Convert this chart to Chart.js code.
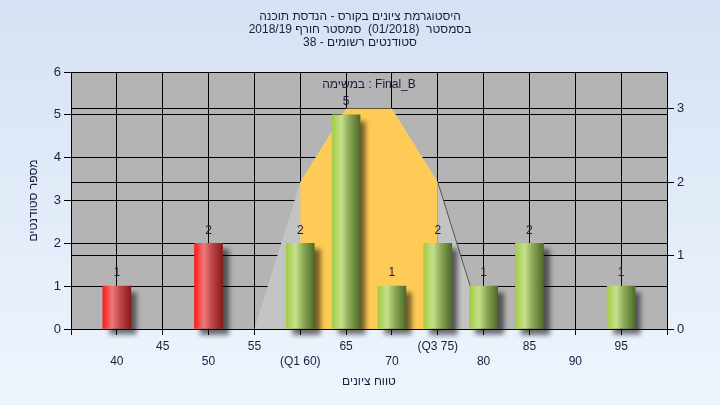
<!DOCTYPE html>
<html>
<head>
<meta charset="utf-8">
<script src="https://cdn.jsdelivr.net/npm/chart.js@4.4.0/dist/chart.umd.min.js"></script>
<style>
  html, body { margin: 0; padding: 0; }
</style>
</head>
<body>
<canvas id="histChart" width="720" height="405"></canvas>
<script>
// histogram data
const grades = [40, 45, 50, 55, 60, 65, 70, 75, 80, 85, 90, 95];
const counts = [1, 0, 2, 0, 2, 5, 1, 2, 1, 2, 0, 1];
const tickLabels = ['40', '45', '50', '55', '(Q1 60)', '65', '70', '(Q3 75)', '80', '85', '90', '95'];

// distribution outline (right axis)
const curveGrades = [55, 60, 65, 70, 75, 80];
const curveValues = [0, 2, 3, 3, 2, 0];
const q1 = 60;
const q3 = 75;
const passGrade = 55;

const titleLines = [
    'היסטוגרמת ציונים בקורס - הנדסת תוכנה',
    'בסמסטר  (01/2018)  סמסטר חורף 2018/19',
    'סטודנטים רשומים - 38'
];
const taskLabel = 'במשימה : Final_B';
const xTitle = 'טווח ציונים';
const yTitle = 'מספר סטודנטים';

const textColor = '#1c1c40';
const fontFamily = '"Liberation Sans", Arial, sans-serif';

const greenStops = [[0, '#a2cc46'], [0.33, '#c6e08c'], [0.6, '#8eaa58'], [1, '#4e6a28']];
const redStops = [[0, '#ff1a1a'], [0.33, '#ee7a7a'], [0.6, '#c44a4a'], [1, '#881a1a']];

function barFill(c) {
    const chart = c.chart;
    const xs = chart.scales.x;
    if (!xs || !c.raw) return '#a2cc46';
    const px = xs.getPixelForValue(c.raw.x);
    if (!isFinite(px)) return '#a2cc46';
    const g = chart.ctx.createLinearGradient(px - 14, 0, px + 14, 0);
    const stops = c.raw.x < passGrade ? redStops : greenStops;
    stops.forEach(s => g.addColorStop(s[0], s[1]));
    return g;
}

const backdrop = {
    id: 'backdrop',
    beforeDraw(chart) {
        const { ctx, width, height, chartArea: a } = chart;
        ctx.save();
        const g = ctx.createLinearGradient(0, 0, 0, height);
        g.addColorStop(0, '#d5e2f3');
        g.addColorStop(1, '#eef5fd');
        ctx.fillStyle = g;
        ctx.fillRect(0, 0, width, height);
        ctx.fillStyle = '#b4b4b4';
        ctx.fillRect(a.left, a.top, a.right - a.left, a.bottom - a.top);
        ctx.restore();
    }
};

const barShadow = {
    id: 'barShadow',
    beforeDatasetDraw(chart, args) {
        if (args.meta.type !== 'bar') return;
        const ctx = chart.ctx;
        ctx.save();
        ctx.shadowColor = 'rgba(0, 0, 0, 0.55)';
        ctx.shadowBlur = 5;
        ctx.shadowOffsetX = 6;
        ctx.shadowOffsetY = 6;
    },
    afterDatasetDraw(chart, args) {
        if (args.meta.type !== 'bar') return;
        chart.ctx.restore();
    }
};

const valueLabels = {
    id: 'valueLabels',
    afterDatasetsDraw(chart) {
        const ctx = chart.ctx;
        const meta = chart.getDatasetMeta(0);
        ctx.save();
        ctx.font = '12px ' + fontFamily;
        ctx.fillStyle = textColor;
        ctx.textAlign = 'center';
        ctx.textBaseline = 'middle';
        meta.data.forEach((bar, i) => {
            if (!counts[i]) return;
            ctx.fillText(String(counts[i]), bar.x, bar.y - 13);
        });
        // task name inside the plot
        const a = chart.chartArea;
        ctx.fillText(taskLabel, (a.left + a.right) / 2, a.top + 13);
        ctx.restore();
    }
};

new Chart(document.getElementById('histChart'), {
    data: {
        datasets: [
            {
                type: 'bar',
                data: grades.map((g, i) => ({ x: g, y: counts[i] || null })),
                backgroundColor: barFill,
                borderWidth: 0,
                barThickness: 28,
                clip: 10,
                order: 0
            },
            {
                type: 'line',
                data: curveGrades.map((g, i) => ({ x: g, y: curveValues[i] })),
                yAxisID: 'y2',
                fill: 'origin',
                backgroundColor: '#c3c3c3',
                borderWidth: 1,
                borderColor: 'transparent',
                segment: {
                    borderColor: s => s.p0.parsed.x >= q3 ? '#555555' : 'transparent'
                },
                pointRadius: 0,
                tension: 0,
                order: 2
            },
            {
                type: 'line',
                data: curveGrades.map((g, i) => ({ x: g, y: curveValues[i] }))
                    .filter(p => p.x >= q1 && p.x <= q3),
                yAxisID: 'y2',
                fill: 'origin',
                backgroundColor: '#fecb56',
                borderWidth: 0,
                pointRadius: 0,
                tension: 0,
                order: 1
            }
        ]
    },
    options: {
        responsive: false,
        animation: false,
        layout: { padding: 0 },
        plugins: {
            legend: { display: false },
            tooltip: { enabled: false },
            title: {
                display: true,
                text: titleLines,
                color: textColor,
                font: { family: fontFamily, size: 12, weight: 'normal', lineHeight: 1.12 },
                padding: { top: 9.5, bottom: 22.2 }
            }
        },
        scales: {
            x: {
                type: 'linear',
                min: 35,
                max: 100,
                offset: false,
                afterBuildTicks: s => {
                    s.ticks = [35].concat(grades, [100]).map(v => ({ value: v }));
                },
                afterFit: s => { s.height = 76; },
                ticks: {
                    autoSkip: false,
                    maxRotation: 0,
                    padding: 4,
                    color: textColor,
                    font: { family: fontFamily, size: 12, lineHeight: 1.25 },
                    callback: v => {
                        const i = grades.indexOf(v);
                        if (i < 0) return '';
                        return i % 2 === 0 ? ['', tickLabels[i]] : tickLabels[i];
                    }
                },
                grid: { color: '#000000', lineWidth: 1, tickLength: 6, offset: false },
                border: { color: '#000000' },
                title: {
                    display: true,
                    text: xTitle,
                    color: textColor,
                    font: { family: fontFamily, size: 12 },
                    padding: { top: 0, bottom: 16 }
                }
            },
            y: {
                position: 'left',
                min: 0,
                max: 6,
                afterFit: s => { s.width = 71; },
                ticks: {
                    stepSize: 1,
                    padding: 3,
                    color: textColor,
                    font: { family: fontFamily, size: 13 }
                },
                grid: { color: '#000000', lineWidth: 1, tickLength: 7 },
                border: { color: '#000000' },
                title: {
                    display: true,
                    text: yTitle,
                    color: textColor,
                    font: { family: fontFamily, size: 12 },
                    padding: { top: 26, bottom: 0 }
                }
            },
            y2: {
                position: 'right',
                min: 0,
                max: 3.5,
                afterBuildTicks: s => {
                    s.ticks = [0, 1, 2, 3].map(v => ({ value: v }));
                },
                afterFit: s => { s.width = 53; },
                ticks: {
                    padding: 3,
                    color: textColor,
                    font: { family: fontFamily, size: 13 }
                },
                grid: { color: '#000000', lineWidth: 1, tickLength: 7 },
                border: { color: '#000000' }
            }
        }
    },
    plugins: [backdrop, barShadow, valueLabels]
});
</script>
</body>
</html>
